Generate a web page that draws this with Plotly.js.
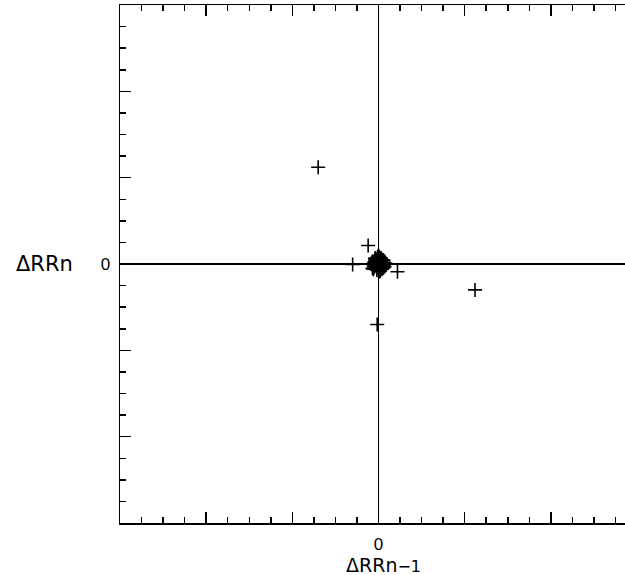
<!DOCTYPE html>
<html>
<head>
<meta charset="utf-8">
<script src="https://cdn.plot.ly/plotly-3.0.1.min.js"></script>
<style>
html, body { margin: 0; padding: 0; overflow: hidden; background: #fff; }
#chart { width: 640px; height: 575px; }
</style>
</head>
<body>
<div id="chart"></div>
<script>
// Outlying successive-difference pairs (ΔRR n-1, ΔRR n)
const outlierX = [-0.70, 1.12, -0.30, -0.12, 0.22, -0.015];
const outlierY = [1.12, -0.30, -0.006, 0.215, -0.09, -0.70];

// Dense cluster near the origin
const clusterX = [0.00, 0.02, -0.03, 0.04, -0.05, 0.01, 0.03, -0.02, 0.06, -0.06,
                  0.00, 0.05, -0.04, 0.02, -0.01, 0.07, -0.05, 0.03, -0.03, 0.01,
                  0.04, -0.02, 0.00, 0.05, -0.05, 0.02, -0.04, 0.06, -0.01, 0.03,
                  0.00, -0.06, 0.01, 0.04, -0.03, 0.02, -0.02, 0.05, 0.00, 0.01,
                  0.03, -0.04, 0.01, -0.07, 0.00, 0.02, 0.08, 0.07, 0.06, 0.04,
                  -0.02, 0.03, 0.05, -0.01, 0.02, 0.06, 0.01, -0.04, 0.03, 0.00];
const clusterY = [0.00, 0.03, -0.02, 0.01, -0.04, 0.05, -0.03, 0.04, 0.02, -0.01,
                  -0.05, -0.02, 0.03, -0.06, 0.06, 0.00, -0.03, 0.05, 0.01, -0.04,
                  0.04, -0.05, 0.03, 0.05, 0.02, 0.00, -0.01, -0.04, 0.02, -0.01,
                  0.10, -0.06, 0.08, -0.05, 0.06, -0.03, 0.00, -0.01, -0.08, 0.02,
                  0.03, 0.05, -0.02, -0.05, 0.04, 0.06, 0.01, -0.03, 0.04, -0.06,
                  -0.07, 0.07, -0.05, 0.08, -0.08, -0.02, -0.09, 0.07, 0.00, 0.09];

const xMajorVals = [-3, -2, -1, 0, 1, 2, 3];
const yMajorVals = [-3, -2, -1, 0, 1, 2, 3];
const xLabelVals = [0];
const xLabelText = ['0'];
const yLabelVals = [0];
const yLabelText = ['0'];

const marker = { symbol: 'cross-thin', size: 10, color: '#000', line: { color: '#000', width: 1.6 } };

const traces = [
  { x: clusterX, y: clusterY, type: 'scatter', mode: 'markers', marker: marker, hoverinfo: 'skip' },
  { x: outlierX, y: outlierY, type: 'scatter', mode: 'markers', marker: marker, hoverinfo: 'skip' }
];

const tickFont = { family: 'Liberation Sans, Arial, sans-serif', size: 17, color: '#000' };

function labelAxis(vals, text) {
  return {
    range: [-3, 3],
    tickmode: 'array',
    tickvals: vals,
    ticktext: text,
    ticks: 'inside',
    ticklen: 11,
    tickwidth: 1.5,
    tickcolor: '#000',
    mirror: 'allticks',
    showline: true,
    linecolor: '#000',
    linewidth: 1.5,
    showgrid: false,
    zeroline: true,
    zerolinecolor: '#000',
    zerolinewidth: 1.5,
    fixedrange: true,
    ticklabelstandoff: 5,
    tickfont: tickFont,
    minor: { dtick: 0.25, tick0: 0, ticks: 'inside', ticklen: 6, tickwidth: 1.5, tickcolor: '#000', showgrid: false }
  };
}

function majorAxis(vals, overlay) {
  return {
    range: [-3, 3],
    overlaying: overlay,
    tickmode: 'array',
    tickvals: vals,
    ticks: 'inside',
    ticklen: 11,
    tickwidth: 1.5,
    tickcolor: '#000',
    mirror: 'allticks',
    showline: false,
    showgrid: false,
    zeroline: false,
    showticklabels: false,
    fixedrange: true
  };
}

const layout = {
  width: 640,
  height: 575,
  margin: { l: 120, r: 3, t: 5, b: 52 },
  paper_bgcolor: '#fff',
  plot_bgcolor: '#fff',
  showlegend: false,
  xaxis: labelAxis(xLabelVals, xLabelText),
  yaxis: labelAxis(yLabelVals, yLabelText),
  xaxis2: Object.assign(majorAxis(xMajorVals, 'x'), { anchor: 'y' }),
  yaxis2: Object.assign(majorAxis(yMajorVals, 'y'), { anchor: 'x' }),
  annotations: [
    { text: 'ΔRRn', xref: 'paper', yref: 'paper', x: -0.088, y: 0.5, xanchor: 'right', yanchor: 'middle',
      showarrow: false, font: { family: 'DejaVu Sans, sans-serif', size: 21, color: '#000' } },
    { text: 'ΔRRn<span style="font-size:16px">−1</span>', xref: 'paper', yref: 'paper', x: 0.51, y: 0, yshift: -29,
      xanchor: 'center', yanchor: 'top',
      showarrow: false, font: { family: 'DejaVu Sans, sans-serif', size: 19, color: '#000' } }
  ]
};

traces.push({ x: [0], y: [0], xaxis: 'x2', yaxis: 'y2', type: 'scatter', mode: 'markers',
              marker: { size: 0.1, opacity: 0 }, hoverinfo: 'skip' });

Plotly.newPlot('chart', traces, layout, { displayModeBar: false, staticPlot: true });
</script>
</body>
</html>
